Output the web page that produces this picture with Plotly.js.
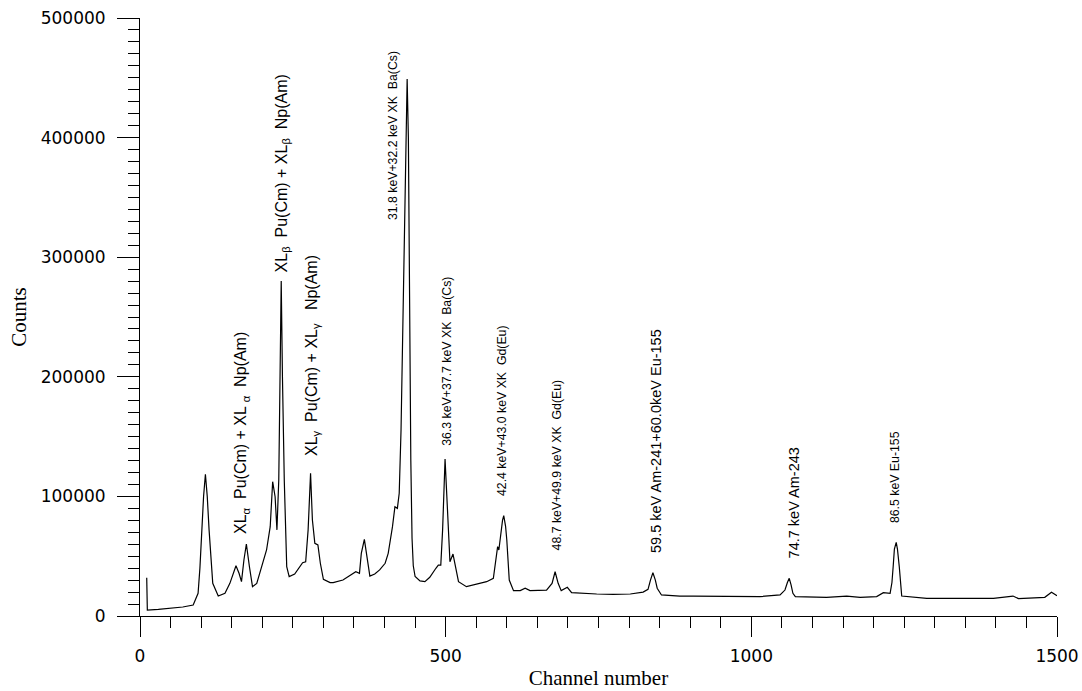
<!DOCTYPE html>
<html>
<head>
<meta charset="utf-8">
<script src="https://cdn.plot.ly/plotly-3.0.1.min.js"></script>
<style>html,body{margin:0;padding:0;background:#fff;}#chart{width:1082px;height:691px;}</style>
</head>
<body>
<div id="chart"></div>
<script>
// Spectrum
const channels = [11, 12, 30, 50, 70, 87, 95, 98, 101, 104, 107, 110, 113, 116, 119, 128, 139, 147, 157, 162, 166, 170, 174, 179, 184, 191, 199, 207, 213, 217, 221, 224, 227, 229, 231, 233, 236, 240, 244, 253, 259, 266, 271, 275, 279, 282, 286, 291, 295, 300, 311, 316, 332, 349, 353, 359, 362, 367, 371, 376, 384, 392, 401, 406, 413, 417, 421, 424, 427, 430, 433, 436, 437, 439, 441, 443, 445, 447, 450, 458, 466, 474, 484, 488, 492, 495, 499, 503, 507, 512, 516, 521, 534, 551, 567, 578, 582, 585, 587, 590, 593, 595, 598, 600, 604, 611, 622, 630, 638, 665, 674, 679, 684, 689, 699, 706, 720, 747, 774, 802, 823, 831, 835, 839, 843, 846, 853, 883, 905, 960, 1014, 1047, 1055, 1059, 1062, 1065, 1068, 1072, 1123, 1156, 1178, 1205, 1216, 1227, 1230, 1232, 1234, 1237, 1239, 1242, 1244, 1246, 1287, 1341, 1396, 1428, 1437, 1480, 1491, 1500];
const counts = [32000, 5000, 5600, 6500, 7500, 9200, 19000, 40000, 72000, 100000, 118500, 100000, 72000, 45000, 27300, 16700, 19000, 27300, 42000, 35700, 28700, 46800, 60200, 41200, 24500, 27300, 41200, 55200, 74700, 112300, 99700, 72000, 113700, 200000, 280000, 200000, 113700, 41200, 32900, 35100, 39900, 44600, 45400, 72000, 119300, 80300, 60800, 59400, 44100, 30700, 27900, 27900, 30100, 36200, 37000, 35700, 52400, 64100, 49600, 33400, 35100, 38500, 44100, 52400, 74700, 91400, 90000, 102600, 155500, 247500, 360000, 445000, 449000, 400000, 247500, 130000, 65000, 42000, 33000, 29300, 28700, 32400, 39900, 42600, 42600, 72000, 131300, 85900, 45400, 51800, 41200, 28700, 24500, 26800, 28700, 31500, 46800, 58000, 55200, 69100, 80000, 83900, 75000, 63500, 30100, 21200, 21200, 23200, 21200, 21700, 27300, 37000, 27300, 21200, 24000, 19500, 19000, 18400, 18100, 18400, 20000, 22300, 30000, 36200, 30000, 23200, 17600, 16700, 16700, 16200, 16200, 17600, 21700, 28000, 31500, 26000, 19000, 16200, 15600, 16700, 15600, 16200, 19500, 19000, 28000, 41200, 56000, 61600, 56000, 41200, 26000, 16700, 14800, 14500, 14800, 16700, 14500, 15600, 19800, 17000];

// Peak labels: text, channel position, bottom count level, font size
const labelTexts = [
  'XL<sub>α</sub>\u00a0\u00a0Pu(Cm) + XL <sub>α</sub>\u00a0\u00a0Np(Am)',
  'XL<sub>β</sub>\u00a0\u00a0Pu(Cm) + XL<sub>β</sub>\u00a0\u00a0Np(Am)',
  'XL<sub>γ</sub>\u00a0\u00a0Pu(Cm) + XL<sub>γ</sub>\u00a0\u00a0\u00a0Np(Am)',
  '31.8 keV+32.2 keV XK\u00a0\u00a0Ba(Cs)',
  '36.3 keV+37.7 keV XK\u00a0\u00a0Ba(Cs)',
  '42.4 keV+43.0 keV XK\u00a0\u00a0Gd(Eu)',
  '48.7 keV+49.9 keV XK\u00a0\u00a0Gd(Eu)',
  '59.5 keV Am-241+60.0keV Eu-155',
  '74.7 keV Am-243',
  '86.5 keV Eu-155'
];
const labelChannels = [167, 233, 282, 414, 502, 592, 682, 844, 1069, 1235];
const labelCounts = [67000, 286000, 132000, 329000, 141000, 99000, 53500, 51000, 46500, 76000];
const labelSizes = [16, 16, 16, 12.3, 12.3, 12.3, 12.3, 14.5, 14.5, 12.3];

const annotations = labelTexts.map((t, i) => ({
  text: t, x: labelChannels[i], y: labelCounts[i], xref: 'x', yref: 'y',
  showarrow: false, textangle: -90, xanchor: 'center', yanchor: 'bottom',
  font: {family: 'Liberation Sans, Arial, sans-serif', size: labelSizes[i], color: '#000'}
}));

const trace = {
  x: channels, y: counts, type: 'scatter', mode: 'lines',
  line: {color: '#000', width: 1.2}, hoverinfo: 'x+y'
};

const tickFont = {family: 'DejaVu Sans, sans-serif', size: 17, color: '#000'};
const layout = {
  width: 1082, height: 691,
  margin: {l: 140, r: 25, t: 18, b: 75},
  paper_bgcolor: '#fff', plot_bgcolor: '#fff',
  showlegend: false,
  xaxis: {
    range: [0, 1500], tick0: 0, dtick: 500, ticks: 'outside', ticklen: 20, tickwidth: 1, tickcolor: '#000',
    showline: true, linecolor: '#000', linewidth: 1, showgrid: false, zeroline: false,
    tickfont: tickFont, ticklabelstandoff: 5,
    minor: {dtick: 50, tick0: 0, ticks: 'outside', ticklen: 11, tickwidth: 1, tickcolor: '#000', showgrid: false},
    title: {text: 'Channel number', font: {family: 'Liberation Serif, Times New Roman, serif', size: 21, color: '#000'}, standoff: 4}
  },
  yaxis: {
    range: [0, 500000], tick0: 0, dtick: 100000, tickformat: 'd', ticks: 'outside', ticklen: 22, tickwidth: 1, tickcolor: '#000',
    showline: true, linecolor: '#000', linewidth: 1, showgrid: false, zeroline: false,
    tickfont: tickFont, ticklabelstandoff: 8,
    minor: {dtick: 10000, tick0: 0, ticks: 'outside', ticklen: 11, tickwidth: 1, tickcolor: '#000', showgrid: false},
    title: {text: 'Counts', font: {family: 'Liberation Serif, Times New Roman, serif', size: 21, color: '#000'}, standoff: 8}
  },
  annotations: annotations
};

Plotly.newPlot('chart', [trace], layout, {displayModeBar: false, staticPlot: true});
</script>
</body>
</html>
